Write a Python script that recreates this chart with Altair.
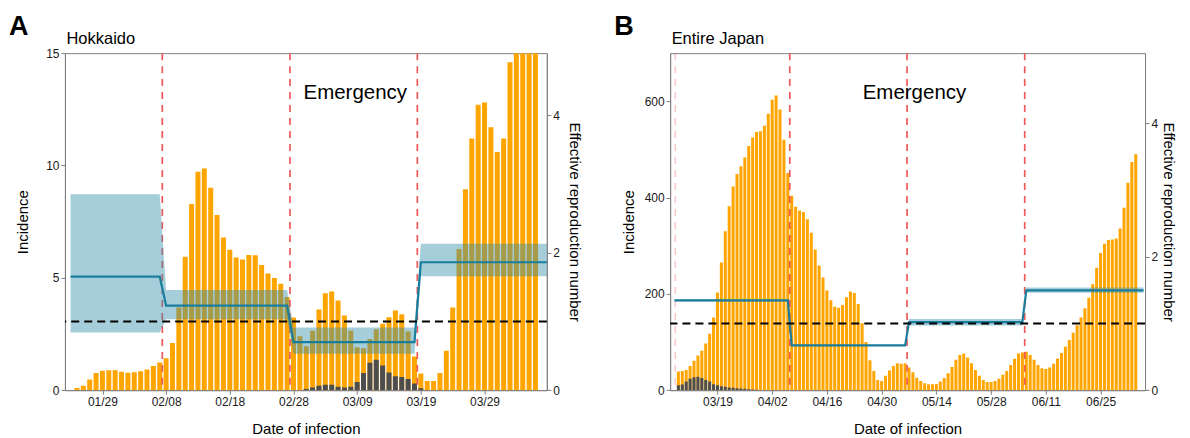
import altair as alt
import pandas as pd

FONT = "Arial, Liberation Sans, sans-serif"
ORANGE = "#FFA500"
GRAY = "#4D4D4D"
BAND = "#308DA9"
LINE = "#1A7D9C"
RED = "#EE5A5A"

# ---------------- Panel A: Hokkaido (day 0 = 2020-01-25) ----------------
hok_incidence = [0.1, 0.2, 0.47, 0.76, 0.86, 0.89, 0.89, 0.82, 0.77, 0.80,
                 0.84, 0.92, 1.07, 1.23, 1.42, 2.1, 3.68, 5.94, 8.28, 9.72,
                 9.87, 9.01, 7.8, 6.8, 6.25, 5.9, 5.82, 6.02, 6.0, 5.57,
                 5.19, 4.99, 4.74, 4.15, 3.23, 2.4, 1.95, 2.64, 3.59, 4.31,
                 4.39, 3.99, 3.32, 2.64, 1.91, 1.87, 2.28, 2.71, 2.96, 3.25,
                 3.54, 3.38, 2.61, 1.5, 0.74, 0.41, 0.41, 0.76, 1.75, 3.68,
                 6.28, 8.94, 11.2, 12.7, 12.8, 11.7, 10.6, 11.2, 14.6, 16.0,
                 17.0, 18.0, 17.0]
hok_imported_first_day = 36
hok_imported = [0.05, 0.12, 0.2, 0.24, 0.24, 0.15, 0.12, 0.15, 0.36, 0.76,
                1.22, 1.35, 1.1, 0.79, 0.62, 0.58, 0.5, 0.3, 0.09]
hok_seg_start = [-1, 14, 34, 54]
hok_seg_end = [13, 33, 53, 74]
hok_rt = [1.65, 1.23, 0.697, 1.86]
hok_rt_lo = [0.84, 1.03, 0.53, 1.655]
hok_rt_hi = [2.85, 1.456, 0.91, 2.13]
hok_breaks = [13.4, 33.45, 53.45]
hok_faint_breaks = []
hok_ticks = [4, 14, 24, 34, 44, 54, 64]

# ---------------- Panel B: Entire Japan (day 0 = 2020-03-09) ----------------
jp_incidence = [39, 40, 42, 50, 61, 72, 82, 97, 117, 151,
                203, 265, 330, 382, 423, 449, 465, 483, 507, 525,
                536, 538, 549, 574, 603, 612, 583, 520, 451, 404,
                381, 373, 370, 355, 327, 292, 259, 234, 207, 187,
                173, 171, 177, 193, 205, 202, 179, 139, 100, 62,
                40, 21, 19, 30, 41, 50, 56, 55, 56, 47,
                37, 26, 19, 14.5, 12.4, 12.4, 13, 18, 25, 35,
                48, 63, 73, 76, 68, 56, 42, 30, 21, 17,
                17, 19, 23.5, 32, 40, 52.5, 65, 76, 78, 80,
                73, 63, 52.5, 45.6, 44, 47, 55, 66, 77, 90,
                104, 119, 135, 151, 170, 192, 220, 254, 285, 304,
                312, 313, 315, 336, 379, 431, 474, 490]
jp_imported_first_day = 0
jp_imported = [10, 12, 18, 23.5, 27, 28, 25, 21, 18, 12.4,
               10, 8, 7, 5.5, 4.8, 4, 3.5, 2.8, 2, 1.4, 0.7]
jp_seg_start = [-1, 29, 59, 89]
jp_seg_end = [28, 58, 88, 119]
jp_rt = [1.345, 0.67, 1.02, 1.494]
jp_rt_lo = [1.33, 0.66, 0.97, 1.46]
jp_rt_hi = [1.36, 0.68, 1.065, 1.54]
jp_breaks = [28.5, 58.5, 88.6]
jp_faint_breaks = [-0.8]
jp_ticks = [10, 24, 38, 52, 66, 80, 94, 108]


def panel(letter, name, y0, m0, d0, inc, imp_first, imp, s_start, s_end, s_r,
          s_lo, s_hi, breaks, faint, ticks, x_domain, inc_max, inc_ticks, r_max,
          emerg_day, width, bar_w, inc_title_pad, r_title_pad):
    bars_df = pd.DataFrame({"day": list(range(len(inc))), "inc": inc})
    imp_df = pd.DataFrame({"day": [imp_first + i for i in range(len(imp))], "imp": imp})
    rows = []
    for s, e, r, lo, hi in zip(s_start, s_end, s_r, s_lo, s_hi):
        for d in range(s, e + 1):
            rows.append({"day": d, "r": r, "lo": lo, "hi": hi})
    rt_df = pd.DataFrame(rows)

    label_expr = f"timeFormat(datetime({y0}, {m0 - 1}, {d0} + datum.value), '%m/%d')"
    xenc = alt.X("day:Q",
                 scale=alt.Scale(domain=x_domain, nice=False, zero=False),
                 axis=alt.Axis(values=ticks, labelExpr=label_expr,
                               title="Date of infection", titlePadding=14))
    inc_scale = alt.Scale(domain=[0, inc_max], nice=False, zero=True)
    r_scale = alt.Scale(domain=[0, r_max], nice=False, zero=True)

    bars = alt.Chart(bars_df).mark_bar(color=ORANGE, width=bar_w, clip=True).encode(
        x=xenc,
        y=alt.Y("inc:Q", scale=inc_scale,
                axis=alt.Axis(values=inc_ticks, title="Incidence", orient="left",
                              titlePadding=inc_title_pad)))
    gray = alt.Chart(imp_df).mark_bar(color=GRAY, width=bar_w, clip=True).encode(
        x=xenc, y=alt.Y("imp:Q", scale=inc_scale, axis=None))
    vlines = alt.Chart(pd.DataFrame({"day": breaks})).mark_rule(
        color=RED, strokeDash=[7, 6], strokeWidth=1.7).encode(x=xenc)
    layers = [bars, gray, vlines]
    if faint:
        layers.append(alt.Chart(pd.DataFrame({"day": faint})).mark_rule(
            color=RED, strokeDash=[7, 6], strokeWidth=1.4, opacity=0.35).encode(x=xenc))
    band = alt.Chart(rt_df).mark_area(color=BAND, opacity=0.43, clip=True).encode(
        x=xenc,
        y=alt.Y("lo:Q", scale=r_scale,
                axis=alt.Axis(values=[0, 2, 4], orient="right",
                              title="Effective reproduction number",
                              titlePadding=r_title_pad)),
        y2="hi:Q")
    line = alt.Chart(rt_df).mark_line(color=LINE, strokeWidth=2.2, clip=True).encode(
        x=xenc, y=alt.Y("r:Q", scale=r_scale, axis=None))
    one = alt.Chart(pd.DataFrame({"r": [1.0]})).mark_rule(
        color="black", strokeDash=[8, 5], strokeWidth=2).encode(
        y=alt.Y("r:Q", scale=r_scale, axis=None))
    emerg = alt.Chart(pd.DataFrame({"day": [emerg_day], "t": ["Emergency"]})).mark_text(
        font=FONT, fontSize=20.5, color="black", baseline="middle", align="center").encode(
        x=xenc, y=alt.value(39.5), text="t:N")
    let = alt.Chart(pd.DataFrame({"t": [letter]})).mark_text(
        font=FONT, fontSize=27, fontWeight="bold", align="left", baseline="alphabetic",
        color="black").encode(x=alt.value(-56), y=alt.value(-17.7), text="t:N")
    ttl = alt.Chart(pd.DataFrame({"t": [name]})).mark_text(
        font=FONT, fontSize=16.5, align="left", baseline="alphabetic",
        color="black").encode(x=alt.value(1.5), y=alt.value(-9), text="t:N")
    layers += [band, line, one, emerg, let, ttl]

    return alt.layer(*layers).resolve_scale(y="independent").properties(
        width=width, height=337.3)


pa = panel("A", "Hokkaido", 2020, 1, 25, hok_incidence, hok_imported_first_day, hok_imported,
           hok_seg_start, hok_seg_end, hok_rt, hok_rt_lo, hok_rt_hi, hok_breaks,
           hok_faint_breaks, hok_ticks, [-1.1, 73.0], 15, [0, 5, 10, 15], 4.9, 43.7,
           482.3, 5.0, 15, 7)
pb = panel("B", "Entire Japan", 2020, 3, 9, jp_incidence, jp_imported_first_day, jp_imported,
           jp_seg_start, jp_seg_end, jp_rt, jp_rt_lo, jp_rt_hi, jp_breaks,
           jp_faint_breaks, jp_ticks, [-0.83, 118.1], 700, [0, 200, 400, 600], 5.05, 60.4,
           475.3, 3.0, 8, 3)

chart = alt.hconcat(pa, pb, spacing=122.7, bounds="flush").properties(
    padding={"left": 0, "top": 4, "right": 5, "bottom": 0}
).configure_view(stroke="#808080", strokeWidth=1).configure_axis(
    labelFont=FONT, labelFontSize=12, labelColor="#1a1a1a", labelPadding=2,
    titleFont=FONT, titleFontSize=15, titleFontWeight="normal", titleColor="black",
    domainColor="#808080", tickColor="#808080", tickSize=4, grid=False
)

chart.save("out.html", embed_options={"renderer": "svg", "actions": False})
